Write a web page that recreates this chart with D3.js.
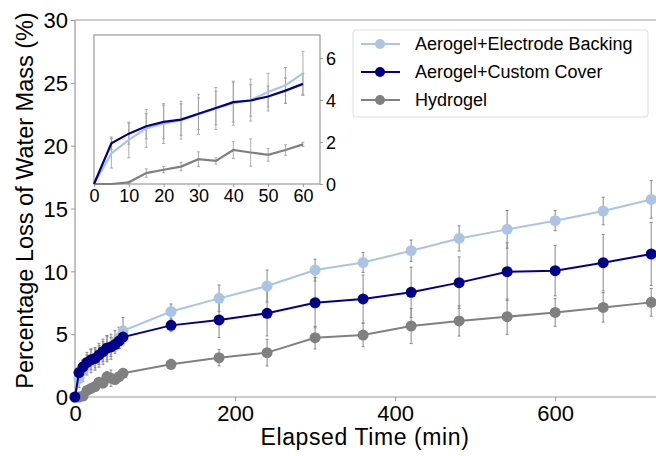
<!DOCTYPE html>
<html>
<head>
<meta charset="utf-8">
<script src="https://cdn.jsdelivr.net/npm/d3@7"></script>
<style>
  body { margin: 0; background: #fff; }
  text { font-family: "Liberation Sans", Arial, sans-serif; fill: #000; }
</style>
</head>
<body>
<div id="chart"></div>
<script>
// Water mass loss over time, three dressing types, with an inset for the first hour.

const times = [0, 5, 10, 15, 20, 25, 30, 35, 40, 45, 50, 55, 60,
               120, 180, 240, 300, 360, 420, 480, 540, 600, 660, 720];

const backingMean = [0, 1.46, 2.1, 2.65, 2.88, 3.04, 3.32, 3.6, 3.85, 4.0, 4.38, 4.7, 5.27,
                     6.8, 7.85, 8.83, 10.1, 10.7, 11.64, 12.62, 13.34, 14.03, 14.8, 15.72];
const backingErr  = [0, 0.7, 0.85, 0.9, 0.95, 0.9, 0.95, 1.0, 1.05, 1.0, 0.9, 0.85, 1.05,
                     0.6, 1.06, 1.27, 0.87, 0.8, 0.85, 1.0, 1.5, 0.8, 1.1, 1.5];

const coverMean = [0, 1.94, 2.4, 2.75, 2.96, 3.07, 3.35, 3.62, 3.9, 3.98, 4.17, 4.45, 4.77,
                   5.7, 6.13, 6.66, 7.5, 7.8, 8.33, 9.1, 9.97, 10.05, 10.69, 11.38];
const coverErr  = [0, 0.3, 0.5, 0.6, 0.8, 0.75, 0.75, 0.8, 0.95, 0.75, 0.5, 0.6, 0.5,
                   0.5, 1.4, 1.8, 2.0, 1.9, 2.0, 2.05, 2.3, 2.0, 2.25, 2.5];

const hydroMean = [0, 0, 0.08, 0.52, 0.68, 0.83, 1.18, 1.1, 1.62, 1.5, 1.39, 1.62, 1.89,
                   2.6, 3.13, 3.53, 4.72, 4.93, 5.65, 6.05, 6.39, 6.73, 7.13, 7.53];
const hydroErr  = [0, 0, 0.05, 0.2, 0.15, 0.2, 0.35, 0.15, 0.4, 0.65, 0.3, 0.25, 0.1,
                   0.4, 0.66, 1.06, 0.9, 0.93, 1.4, 1.2, 1.4, 1.1, 1.17, 1.1];

const seriesNames = ["Aerogel+Electrode Backing", "Aerogel+Custom Cover", "Hydrogel"];
const seriesColors = ["#aac4e4", "#00008b", "#808080"];

const mainYTicks = [0, 5, 10, 15, 20, 25, 30];
const mainXTicks = [0, 200, 400, 600];
const insetXTicks = [0, 10, 20, 30, 40, 50, 60];
const insetYTicks = [0, 2, 4, 6];

const series = [
  {name: seriesNames[0], color: seriesColors[0], mean: backingMean, err: backingErr},
  {name: seriesNames[1], color: seriesColors[1], mean: coverMean, err: coverErr},
  {name: seriesNames[2], color: seriesColors[2], mean: hydroMean, err: hydroErr}
];

const W = 656, H = 456;
const svg = d3.select("#chart").append("svg")
    .attr("width", W).attr("height", H);

// Main axes
const x = d3.scaleLinear().domain([0, 726]).range([75, 656]);
const y = d3.scaleLinear().domain([0, 30]).range([397, 20]);

const spine = "#999";

const gx = svg.append("g")
    .attr("transform", `translate(0,${y(0)})`)
    .call(d3.axisBottom(x).tickValues(mainXTicks).tickSize(4).tickPadding(3));
const gy = svg.append("g")
    .attr("transform", `translate(${x(0)},0)`)
    .call(d3.axisLeft(y).tickValues(mainYTicks).tickSize(4).tickPadding(3));
[gx, gy].forEach(g => {
  g.select(".domain").attr("stroke", spine).attr("stroke-width", 1.2);
  g.selectAll(".tick line").attr("stroke", spine);
  g.selectAll(".tick text").style("font-size", "22px").attr("fill", "#000");
});
gy.select(".domain").attr("d", `M-0,${y(30)}V${y(0)}`);
gx.select(".domain").attr("d", `M${x(0)},0H${x(726)}`);
gy.selectAll(".tick text").attr("dy", "0.35em");
gx.selectAll(".tick text").attr("dy", "0.78em");

svg.append("line")
    .attr("x1", x(0)).attr("x2", x(726))
    .attr("y1", y(30)).attr("y2", y(30))
    .attr("stroke", spine).attr("stroke-width", 1.2);

svg.append("text")
    .attr("x", 365)
    .attr("y", 445)
    .attr("text-anchor", "middle")
    .style("font-size", "23px")
    .style("letter-spacing", "0.6px")
    .text("Elapsed Time (min)");

svg.append("text")
    .attr("transform", `translate(33,${y(15) - 8}) rotate(-90)`)
    .attr("text-anchor", "middle")
    .style("font-size", "23.5px")
    .text("Percentage Loss of Water Mass (%)");

// Error bars under everything
const errG = svg.append("g");
series.forEach(s => {
  times.forEach((t, i) => {
    if (s.err[i] <= 0) return;
    const cx = x(t), y1 = y(s.mean[i] - s.err[i]), y2 = y(s.mean[i] + s.err[i]);
    errG.append("line").attr("x1", cx).attr("x2", cx).attr("y1", y1).attr("y2", y2)
        .attr("stroke", "#888").attr("stroke-width", 1);
    [y1, y2].forEach(yy => errG.append("line")
        .attr("x1", cx - 1.5).attr("x2", cx + 1.5).attr("y1", yy).attr("y2", yy)
        .attr("stroke", "#888").attr("stroke-width", 1));
  });
});

const line = d3.line().x((d, i) => x(times[i])).y(d => y(d));

[2, 0, 1].forEach(k => {
  const s = series[k];
  const g = svg.append("g");
  g.append("path").datum(s.mean)
      .attr("d", line)
      .attr("fill", "none")
      .attr("stroke", s.color)
      .attr("stroke-width", 2);
  g.selectAll("circle").data(s.mean).enter().append("circle")
      .attr("cx", (d, i) => x(times[i]))
      .attr("cy", d => y(d))
      .attr("r", 5.5)
      .attr("fill", s.color);
});

// Inset
const ix = d3.scaleLinear().domain([0, 64.9]).range([94, 320]);
const iy = d3.scaleLinear().domain([0, 7.1]).range([184, 35]);
const inset = svg.append("g");
inset.append("rect")
    .attr("x", 94).attr("y", 35).attr("width", 226).attr("height", 149)
    .attr("fill", "#fff").attr("stroke", spine).attr("stroke-width", 1.2);

const igx = inset.append("g")
    .attr("transform", `translate(0,184)`)
    .call(d3.axisBottom(ix).tickValues(insetXTicks).tickSize(3).tickPadding(2));
const igy = inset.append("g")
    .attr("transform", `translate(320,0)`)
    .call(d3.axisRight(iy).tickValues(insetYTicks).tickSize(3).tickPadding(3));
[igx, igy].forEach(g => {
  g.select(".domain").remove();
  g.selectAll(".tick line").attr("stroke", spine);
  g.selectAll(".tick text").style("font-size", "18px").attr("fill", "#000");
});
igx.selectAll(".tick text").attr("dy", "0.72em");
igy.selectAll(".tick text").attr("dy", "0.35em");

const nIn = 13;
const ierr = inset.append("g");
series.forEach(s => {
  for (let i = 1; i < nIn; i++) {
    if (s.err[i] <= 0) continue;
    const cx = ix(times[i]), y1 = iy(s.mean[i] - s.err[i]), y2 = iy(s.mean[i] + s.err[i]);
    ierr.append("line").attr("x1", cx).attr("x2", cx).attr("y1", y1).attr("y2", y2)
        .attr("stroke", "#999").attr("stroke-width", 0.8);
    [y1, y2].forEach(yy => ierr.append("line")
        .attr("x1", cx - 1.5).attr("x2", cx + 1.5).attr("y1", yy).attr("y2", yy)
        .attr("stroke", "#999").attr("stroke-width", 0.8));
  }
});

const iline = d3.line().x((d, i) => ix(times[i])).y(d => iy(d));
[2, 0, 1].forEach(k => {
  const s = series[k];
  inset.append("path").datum(s.mean.slice(0, nIn))
      .attr("d", iline)
      .attr("fill", "none")
      .attr("stroke", s.color)
      .attr("stroke-width", 2.2);
});

// Legend
const legend = svg.append("g");
legend.append("rect")
    .attr("x", 353).attr("y", 30).attr("width", 295).attr("height", 87)
    .attr("rx", 3)
    .attr("fill", "#fff").attr("stroke", "#ddd");
series.forEach((s, i) => {
  const ly = 44 + i * 28;
  legend.append("line").attr("x1", 361).attr("x2", 400).attr("y1", ly).attr("y2", ly)
      .attr("stroke", s.color).attr("stroke-width", 2);
  legend.append("circle").attr("cx", 380).attr("cy", ly).attr("r", 5).attr("fill", s.color);
  legend.append("text").attr("x", 415).attr("y", ly).attr("dy", "0.35em")
      .style("font-size", "18px").text(s.name);
});
</script>
</body>
</html>
